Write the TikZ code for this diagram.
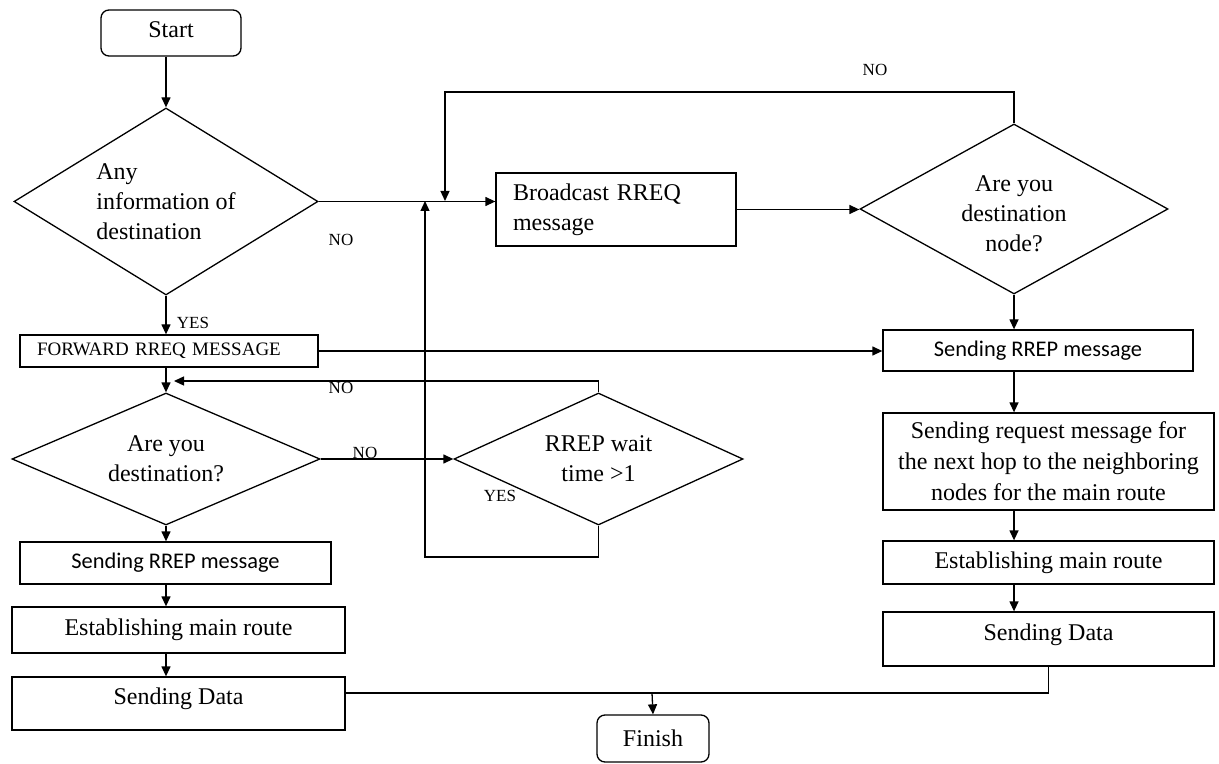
\documentclass[tikz,border=0pt]{standalone}
\usepackage{fontspec}
\setmainfont{Liberation Serif}
\newfontfamily\carlito{Carlito}
\usetikzlibrary{shapes.geometric,arrows.meta}

\begin{document}
\begin{tikzpicture}[x=0.5pt, y=-0.5pt, line width=.65pt, >={Triangle[length=5pt, width=4.5pt]},
  every node/.style={font=\fontsize{12}{15}\selectfont, inner sep=0pt},
  term/.style 2 args={draw, rectangle, rounded corners=4pt, minimum width=#1, minimum height=#2},
  block/.style 2 args={draw, rectangle, minimum width=#1, minimum height=#2},
  decision/.style 2 args={draw, diamond, shape aspect=1.8, minimum width=#1, minimum height=#2, align=center},
  lbl/.style={font=\fontsize{8.5}{10}\selectfont}]
  \useasboundingbox (0,0) rectangle (1219,764);
  \node [term={70pt}{23pt}, text depth=3pt] (start) at (171,33) {Start};
  \node [decision={152pt}{93.5pt}, align=left] (info) at (166,201.5) {Any\\information of\\destination};
  \node [block={149pt}{16pt}, font=\fontsize{9.5}{11}\selectfont, text width=132pt, align=left] (fwd) at (169,351) {FORWARD RREQ MESSAGE};
  \node [decision={154pt}{66pt}] (dest) at (166,459) {Are you\\destination?};
  \node [decision={144.5pt}{66pt}] (wait) at (598.5,459) {RREP wait\\time >1};
  \node [block={120pt}{36.5pt}, text width=103pt, align=left] (bcast) at (616,209.5) {Broadcast RREQ\\message};
  \node [decision={154pt}{85pt}, text height=43pt] (destnode) at (1014,209) {Are you\\destination\\node?};
  \node [block={155pt}{20.5pt}, font=\carlito\fontsize{11.2}{13}\selectfont] (rrepR) at (1038,350.5) {Sending RREP message};
  \node [block={165.5pt}{48.5pt}, align=center, font=\fontsize{12}{15.5}\selectfont] (req) at (1048.5,461.5) {Sending request message for\\the next hop to the neighboring\\nodes for the main route};
  \node [block={165.5pt}{21.5pt}] (estR) at (1048.5,562.5) {Establishing main route};
  \node [block={165.5pt}{27pt}, text depth=7pt] (dataR) at (1048.5,639) {Sending Data};
  \node [block={155.5pt}{21pt}, font=\carlito\fontsize{11.2}{13}\selectfont] (rrepL) at (175.5,563) {Sending RREP message};
  \node [block={166.5pt}{23pt}] (estL) at (178.5,630) {Establishing main route};
  \node [block={166.5pt}{26.5pt}, text depth=7pt] (dataL) at (178.5,703.5) {Sending Data};
  \node [term={56pt}{23.5pt}] (finish) at (653,738.5) {Finish};
  \node [lbl] (yes1) at (193,323) {YES};
  \node [lbl] (no1) at (341,240) {NO};
  \node [lbl] (no2) at (875,70) {NO};
  \node [lbl] (no3) at (341,388) {NO};
  \node [lbl] (no4) at (365,453) {NO};
  \node [lbl] (yes2) at (500,496) {YES};
  \coordinate (looptop) at (445,92);
  \coordinate (loopin) at (445,201);
  \coordinate (yescorner) at (425,557);
  \coordinate (yesin) at (425,201);
  \coordinate (noback) at (174,381);
  \coordinate (join) at (652,693);
  \draw [->] (info.north |- start.south) -- (info.north);
  \draw [->] (info.south) -- (info.south |- fwd.north);
  \draw [->] (info.east) -- (info.east -| bcast.west);
  \draw [->] (bcast.east) -- (bcast.east -| destnode.west);
  \draw [->] (destnode.north) |- (looptop) -- (loopin);
  \draw [->] (wait.south) |- (yescorner) -- (yesin);
  \draw [->] (fwd.east) -- (fwd.east -| rrepR.west);
  \draw [->] (fwd.south -| info.south) -- (dest.north);
  \draw [->] (wait.north) |- (noback);
  \draw [->] (dest.east) -- (wait.west);
  \draw [->] (dest.south) -- (dest.south |- rrepL.north);
  \draw [->] (rrepL.south -| dest.south) -- (estL.north -| dest.south);
  \draw [->] (estL.south -| dest.south) -- (dataL.north -| dest.south);
  \draw [->] (destnode.south) -- (destnode.south |- rrepR.north);
  \draw [->] (rrepR.south -| destnode.south) -- (req.north -| destnode.south);
  \draw [->] (req.south -| destnode.south) -- (estR.north -| destnode.south);
  \draw [->] (estR.south -| destnode.south) -- (dataR.north -| destnode.south);
  \draw (dataR.south) |- (join) -- (join -| dataL.east);
  \draw [->] (join) -- (finish.north);
\end{tikzpicture}
\end{document}
